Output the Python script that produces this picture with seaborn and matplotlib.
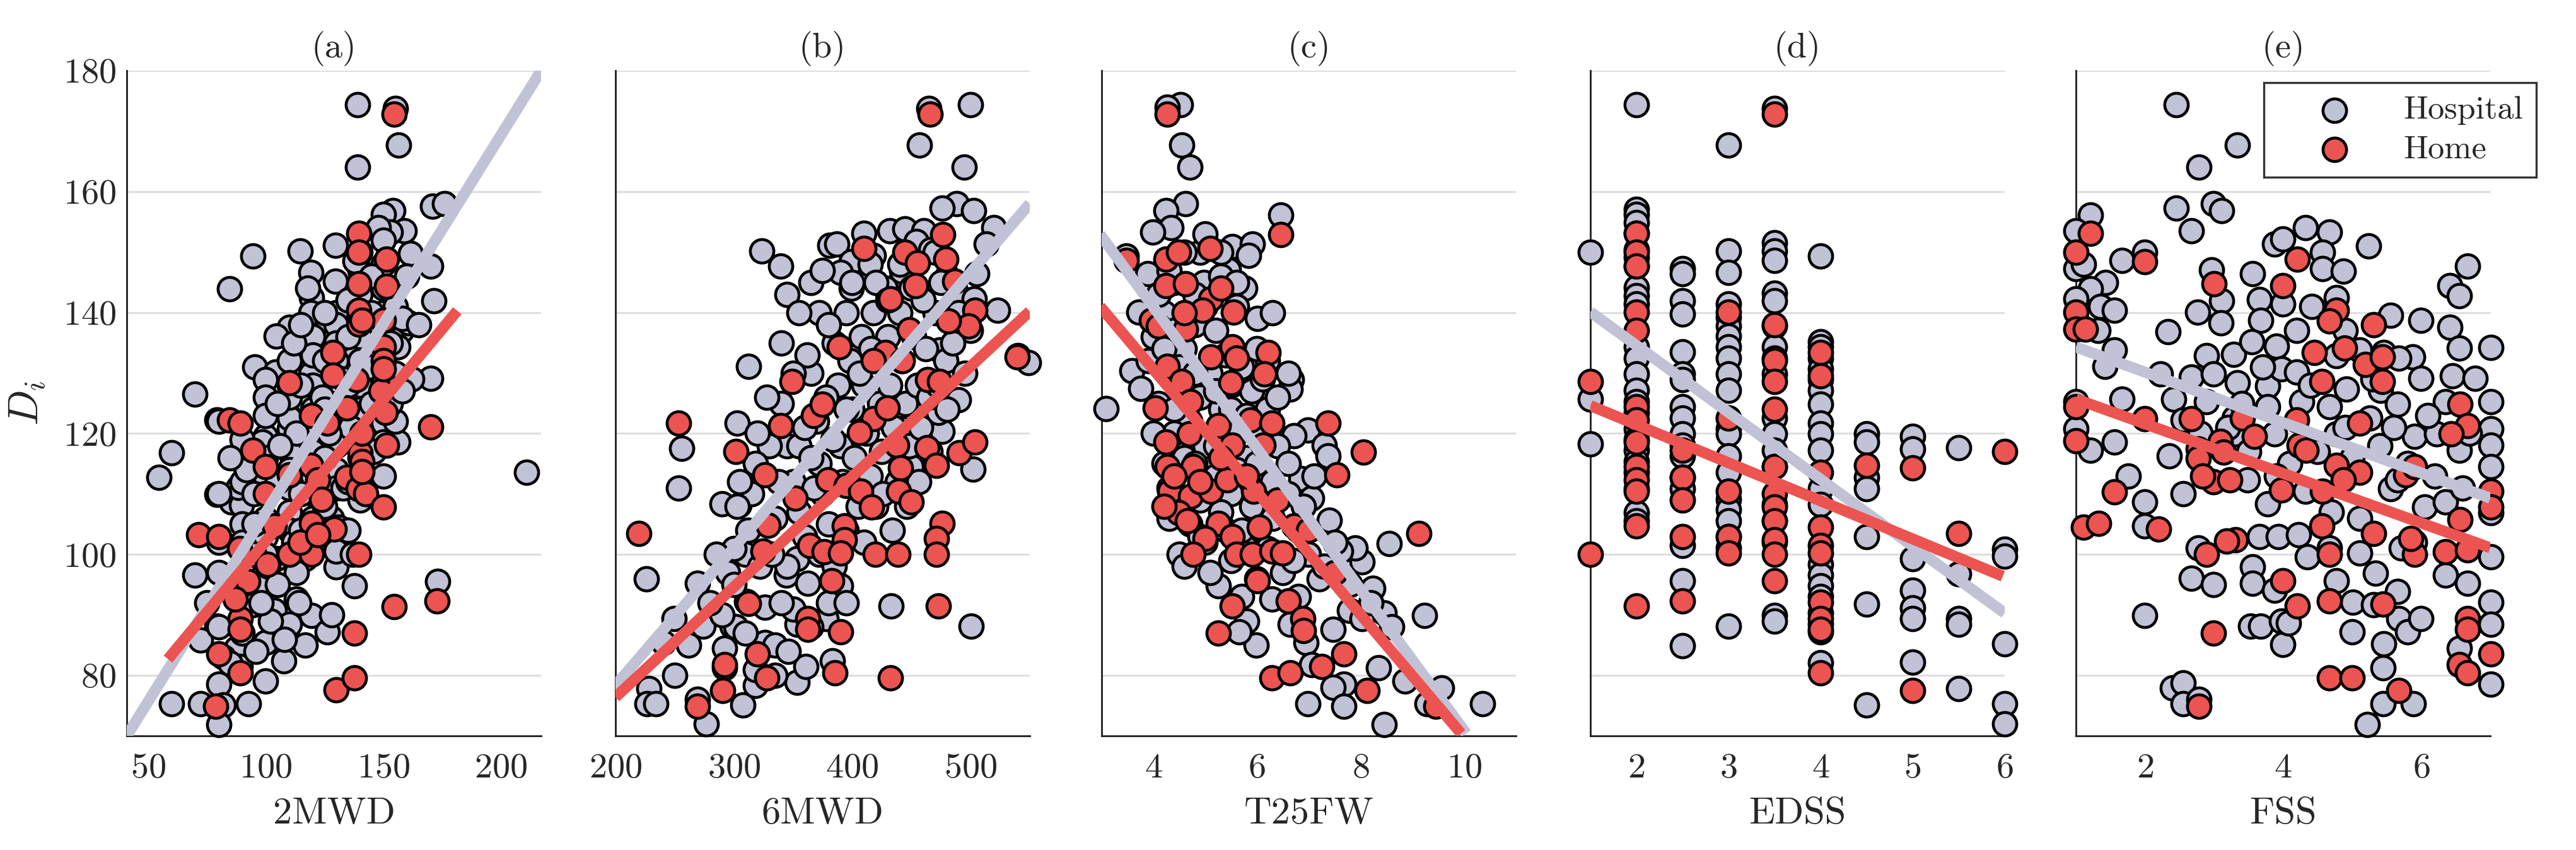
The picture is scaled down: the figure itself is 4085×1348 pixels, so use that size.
import matplotlib
matplotlib.use("Agg")
import matplotlib.pyplot as plt
import seaborn as sns

# ---- data: (walk measure, D_i) per subject ----
a_hosp = [(139,174.4),(155,173.7),(156.5,167.7),(139,164),(171,157.6),(176,158),(154,156.9),(150,156.2),(159,153.5),(153,153.3),(148,154),
          (94.6,149.3),(114.6,150.2),(129.7,151.1),(119.2,146.6),(129.7,145.2),(84.6,143.9),(161.5,149.8),(170,147.7),(171.5,141.9),
          (119.5,142.5),(119.2,140),(126.2,138.7),(130,140),(110,137.6),(104.6,136.1),(116.9,133.8),(157.7,137),(160.8,138.3),(95.4,131),
          (104.3,130.2),(100,128.9),(119.2,129.8),(110,132),(170,129.1),(156.2,134.3),(134.6,134.3),(70,126.5),(111.5,125.3),(108.5,124.8),
          (117.7,125.3),(79.2,122.2),(110,120.8),(110,122.6),(100,119.5),(98.5,118.6),(60,116.8),(54.6,112.7),(210.8,113.6),(89.2,115.6),
          (79.2,109.9),(85.4,108.7),(89.7,108.2),(88.5,111.1),(70,96.6),(100,95.2),(104.6,99.3),(116.9,99.3),(130,97.9),(130,100.6),
          (137.7,94.8),(173,95.5),(94.6,91.7),(103.8,90.8),(113.1,92.6),(110,88.5),(119.5,89.9),(126.2,87.2),(116.9,85),(100,85.4),
          (79.2,88.1),(72.3,85.8),(87.7,84.5),(89.2,81.5),(107.7,82.4),(100,79.1),(80,78.5),(60,75.3),(72.3,75.3),(81.9,75.1),(92.8,75.3),
          (80,71.9),(150,121.7),(150,118.6),(156.2,118.6),
          (140,150),(140,147),(140,143),(140,136),(140,132),(140,128),(140,124),(140,120),(140,116),(140,112),(140,109),(138,148.5),(142,139),(143,131),
          (150,152),(150,148),(150,144),(150,140),(150,136),(150,132),(150,128),(150,124),(152,139),(153,135),(155,141),(158,139),(160,146),(155,122),(153,125),(150,113),
          (130,138),(130,135),(130,132),(130,125),(130,122),(130,118),(130,114),(130,111),(128,106),(131,104.5),(133,129),(135,136),(136,121),(133,111),
          (120,136),(120,133),(120,128),(120,124),(120,120),(120,117),(120,113),(120,110),(120,106),(120,103),(120,101),(122,121),(124,126),(125,116),
          (110,128),(110,126),(110,117),(110,114),(110,111),(110,107),(110,104),(112,102),(112,135),(113,120),(115,110),(114,92),
          (100,126),(100,123),(100,116),(100,113),(100,110),(100,106),(100,103),(100,100),(101,98),(102,89),(98,92),
          (90,119),(90,112),(90,105),(90,102),(90,98),(90,95),(90,87),(92,114),
          (80,122),(80,110),(80,102),(80,97),(80,88),(82,83),(85,82),
          (145,140),(145,131),(146,117),(135,112),(125,132),(118,144),(127,120),(165,138),(162,129),(137,100),(128,90),(108,86),(113,97),
          (105,125),(106,118),(105,112),(95,110),(95,100),(95,105),(105,95),(115,128),(115,138),(125,140),(125,124),(135,142),(135,128),
          (145,146),(145,125),(155,130),(158,127),(115,104),(125,108),(135,104),(96,84),(86,95),(75,92),(85,116)]
a_home = [(154.6,172.8),(139.7,153.1),(139.7,150),(139.7,144.8),(139.7,140.4),(139.7,138.1),(151.5,148.8),(151.5,144.3),(150,138.7),
          (150,134.3),(150,132),(150,128.4),(128.5,133.4),(128.5,129.6),(110,128.4),(138.5,128.9),(134.6,124.2),(150.8,123.5),(84.6,122.2),
          (89.2,121.7),(170,121.1),(119.5,123),(126.2,121.7),(94.6,117.2),(140,116.8),(151.5,118.1),(100,114.5),(110,113.2),(119.2,114.7),
          (122.3,112.3),(134.6,112.7),(139.2,110.9),(142.6,110),(150,107.8),(100,110),(123.8,109.1),(71.5,103.3),(80,102.9),(103.8,104.7),
          (119.5,105.1),(129.2,104.2),(110,100),(119.5,100),(139.7,100),(89,101),(92.3,95.5),(89.2,89.4),(89.2,87.6),(80,83.6),(89.2,80.4),
          (137.7,87),(154.6,91.4),(172.8,92.3),(130,77.6),(137.7,79.6),(78.8,74.9),(87,92.6),(100.8,98.4),(114.6,102),(122.3,103.3),
          (140.8,120),(140.8,115.4),(140.8,113.7),(149,127),(150,130.7),(140.8,138.7)]

b_hosp = [(499.7,174.4),(465,173.7),(456.9,167.7),(494.8,164),(488,158),(475.8,157.3),(502.8,156.9),(519.6,154),(513.5,151.3),(323.5,150.2),
          (339.8,147.7),(381,151.1),(387,151.3),(410,153.1),(431.5,153.5),(444.6,153.8),(460.6,153.5),(399.4,148.4),(390,146.6),(399.4,144),
          (417.7,149.5),(454,151.7),(466.3,150.4),(505,146.4),(523,140.4),(488,143.2),(503,142.3),(442,146.8),(312.2,131.1),(303,121.7),
          (255.7,117.5),(253.5,111),(290,108.4),(304.6,108.2),(226,96),(269.4,95.2),(249.5,89.4),(274,88.1),(240.4,85.4),(228,77.8),
          (226.6,75.3),(234,75.3),(269.4,76),(276.5,72),(292.4,84.5),(298.5,88.1),(292.4,81.3),(307.6,75.1),(318.3,78.3),(326,85.4),(335,85),
          (353.5,78.9),(361,81.5),(383.5,82.4),(433,91.5),(500.3,88.1),(344.3,96.6),(362.7,95.2),(390.2,94.8),(353.5,99.3),(378,89.4),
          (353.5,88.5),(326,91.3),(310.7,92.2),(489.6,125.6),(501.8,114.1),(475.8,120.4),(472.8,123.5),(473.7,133.8),(479,132),(540,132.9),
          (549,131.7),(450,114.5),(442,120.8),
          (340,125),(345,118),(350,112),(355,107),(360,103),(365,130),(370,122),(372,115),(375,110),(380,105),(385,135),(388,128),(390,118),
          (392,112),(395,140),(398,132),(400,124),(402,116),(405,108),(408,136),(410,128),(412,120),(415,113),(418,140),(420,132),(423,125),
          (425,117),(428,144),(430,136),(432,128),(435,121),(438,112),(440,140),(442,132),(445,125),(448,118),(450,144),(452,136),(455,128),
          (458,121),(462,134),(465,126),(470,140),(472,128),(330,118),(320,120),(315,110),(335,106),(310,100),(322,98),(300,101),(295,97),
          (302,88),(345,98),(355,118),(365,116),(372,100),(385,98),(395,104),(410,102),(420,108),(372,140),(380,138),(362,133),(350,130),
          (340,135),(400,145),(415,148),(440,148),(470,150),(480,146),(490,140),(500,137),(350,91),(365,88),(310,87),(318,81),(290,90),
          (380,92),(312,104),(303,108),
          (345,143),(355,140),(365,145),(375,147),(420,145),(430,142),(460,142),(475,145),(485,135),(495,130),(360,121),(368,111),(378,126),
          (384,119),(395,124),(406,130),(416,134),(426,110),(434,104),(446,108),(456,112),(466,117),(480,124),(338,112),(328,126),(318,115),
          (305,112),(332,100),(340,92),(300,95),(285,100),(280,92),(262,85),(250,80),(335,80),(346,84),(395,92)]
b_home = [(465.7,172.8),(476.5,152.9),(478.9,148.8),(410,150.6),(444.6,150),(455.3,148.2),(453.8,144.4),(432.4,142.3),(486.5,145.2),
          (503.4,140.4),(498.2,137.8),(481.3,138.6),(448.3,137.1),(389.3,134.3),(427.8,133.4),(417.7,132),(442.2,132),(349,128.6),
          (463.6,128.9),(473.7,128.6),(539.4,132.7),(367.3,123),(375,124.8),(339.8,121.3),(417.7,122.4),(429.4,124.2),(406.4,120.2),
          (437.6,118.1),(440.7,114.3),(463,117.7),(471.3,114.7),(490.5,116.8),(503.4,118.6),(253.2,121.7),(301.5,117),(326,113.2),
          (379.5,112.3),(394.8,111.4),(407,110.5),(416.2,107.8),(439.1,110.5),(449.8,108.7),(352,109.3),(329,104.8),(219.6,103.5),
          (393.3,104.7),(393.3,102.4),(364.2,101.5),(376.5,100.4),(390.2,100.2),(419.3,100),(438.5,100),(475.8,105.1),(471.3,102.6),
          (471.3,100),(324.5,100.6),(312.2,91.9),(382.6,95.7),(362.7,89.4),(362.7,87.6),(390.2,87.2),(472.8,91.5),(319.9,83.6),(292.4,81.8),
          (328.1,79.6),(385.6,80.4),(432.4,79.6),(290.8,77.5),(269.4,74.9)]

c_hosp = [(4.52,174.4),(4.27,174),(4.55,167.7),(4.71,164),(4.62,158),(4.24,156.9),(4.34,154),(3.99,153.3),(6.46,156.1),(3.47,149.3),
          (5.45,147.1),(5.52,150.9),(5.91,151.3),(5.84,149.5),(4.97,145),(5.77,144),(6.01,139),(3.89,146.4),(3.72,140.1),(3.58,130.4),
          (3.75,127.5),(3.09,124.1),(6.67,128.9),(6.64,127.3),(6.08,125.5),(6.98,120.6),(6.71,119.6),(7.3,118.1),(7.37,116.3),(6.85,112.5),
          (7.05,109.3),(7.4,105.7),(8.55,101.8),(9.24,89.9),(5.25,94.8),(5.8,89),(5.98,85),(5.66,87.2),(6.29,92.6),(6.64,88.5),(6.95,85.4),
          (7.05,81.8),(7.47,87.6),(7.78,90.8),(8.03,89.4),(8.34,81.3),(6.98,75.3),(7.68,78.5),(7.47,78),(7.68,74.9),(8.45,71.9),(8.86,79.1),
          (9.28,75.3),(9.56,77.9),(10.36,75.3),(8.03,98.8),(7.89,101.1),(7.61,100.6),(8.24,94.4),(8.45,90.3),
          (4.2,140),(4.4,137),(4.6,134),(4.3,131),(4.5,128),(4.8,138),(5.0,141),(5.2,137),(5.4,133),(5.1,130),(4.9,126),(4.7,122),(4.4,120),
          (4.6,116),(5.0,118),(5.3,124),(5.5,128),(5.7,131),(5.9,127),(5.6,120),(5.8,116),(6.0,120),(6.2,124),(6.4,118),(6.1,112),(5.9,108),
          (5.5,110),(5.2,113),(4.9,109),(4.7,105),(5.0,102),(5.4,104),(5.8,101),(6.3,106),(6.6,110),(6.8,104),(7.0,100),(6.5,97),(6.0,96),
          (5.5,99),(4.8,143),(5.6,141),(6.2,132),(4.1,125),(3.9,132),(4.3,111),(4.5,100),(5.1,97),(6.8,93),(7.2,96),(7.5,102),(6.0,134),
          (5.3,146),(4.4,145),(4.9,150),(6.3,140),(6.6,130),(7.1,113),(5.7,93),(4.6,98),
          (4.1,143),(4.3,147),(4.6,150),(5.0,153),(5.3,150),(5.6,145),(4.0,136),(4.2,134),(4.5,131),(4.8,130),(5.2,127),(5.5,124),(5.8,123),
          (6.1,129),(6.4,126),(4.4,124),(4.8,115),(5.2,118),(5.6,114),(6.0,115),(6.3,112),(6.6,115),(6.9,108),(5.3,107),(4.9,103),(5.7,104),
          (6.2,101),(6.7,99),(7.3,98),(7.8,95),(8.2,92),(8.6,88),(4.3,106),(4.2,115),(4.0,120)]
c_home = [(4.27,172.8),(6.46,152.9),(3.47,148.6),(4.24,148.8),(4.48,150),(5.09,150.6),(4.24,144.4),(4.62,144.8),(5.11,142.3),(4.95,140.4),
          (5.55,140.1),(3.96,138.7),(4.1,137.8),(4.62,137.2),(5.52,134.3),(5.6,132.5),(5.11,132.7),(6.21,133.4),(4.27,131.1),(4.55,128.6),
          (5.5,128.4),(6.14,129.8),(4.72,125.3),(4.03,124.2),(5.87,122.2),(6.29,121.7),(7.37,121.7),(4.24,118.6),(4.69,119.9),(5.25,121.3),
          (5.52,118.1),(6.12,118.1),(8.05,116.9),(7.54,113.2),(4.27,114.5),(4.76,114.5),(4.31,110.5),(4.72,109.6),(5.11,110.5),(5.42,112.3),
          (5.94,110.5),(4.48,106.9),(4.66,105.6),(5.25,105.1),(5.0,102.6),(5.52,102.9),(6.05,104.5),(4.76,100),(5.6,100),(5.91,100),
          (6.29,100.6),(6.5,100.2),(6.71,104.7),(9.13,103.5),(6.01,95.7),(5.52,91.5),(6.6,92.3),(6.88,89.4),(6.9,87.4),(5.25,87),(7.25,81.5),
          (7.68,83.6),(6.29,79.6),(6.64,80.4),(8.13,77.5),(9.45,74.9),
          (4.4,113),(4.9,112),(4.2,108),(5.3,116),(5.8,113),(6.4,109),(7.0,104),(7.5,97),(4.6,140),(5.3,144)]

# EDSS takes discrete levels: D_i values per level
d_levels = [1.5, 2, 2.5, 3, 3.5, 4, 4.5, 5, 5.5, 6]
d_hosp_di = [[150, 125.7, 118.3],
             [174.4, 157.1, 156.2, 154.9, 153.1, 150.4, 149.1, 147.7, 144.1, 142.8, 141.4, 134.3, 132.5, 129.8, 127.1, 125.3, 123.5,
              120.8, 119, 117.2, 115.4, 113.6, 110.9, 106.9, 105.6],
             [147.3, 146.4, 141.9, 139.8, 133.5, 129.8, 128.9, 124.4, 122.6, 119.9, 118.1, 116.3, 112.7, 110.9, 101.5, 95.7, 84.9],
             [167.7, 150.2, 146.6, 141.4, 139.2, 137.8, 136.1, 134.3, 132.5, 129.8, 127.1, 122.6, 120.8, 119.9, 116.3, 113.6, 109.1,
              107.4, 105.6, 102.9, 101.1, 88.1],
             [173.7, 151.5, 150.2, 148.6, 143.2, 141.9, 137.8, 134.3, 132.5, 129.8, 122.6, 119.9, 117.2, 114.5, 108.3, 105.6, 102,
              89.9, 89],
             [149.3, 135.2, 134.3, 132.5, 130.7, 128.9, 127.1, 124.8, 121.7, 119.9, 117.2, 110.9, 108.3, 98.4, 96.6, 94.8, 93, 90.3,
              88.5, 87.2, 82.1],
             [119.9, 118.6, 112.7, 110.9, 102.9, 91.8, 75.1],
             [119.5, 117.4, 99.3, 94.1, 91.2, 89.4, 82.2],
             [117.7, 96.8, 89.4, 88.5, 77.8],
             [100.9, 99.7, 85.2, 75.3, 72]]
d_home_di = [[128.6, 100],
             [153.1, 150, 147.7, 140.1, 137, 124.4, 122.2, 118.6, 114.5, 112.3, 110.5, 104.7, 91.5],
             [117.2, 112.7, 109, 102.9, 92.3],
             [140.1, 122.6, 110.5, 102.9, 100.2],
             [172.8, 138, 132, 128.6, 124, 114.5, 110, 107.8, 105.6, 102.4, 100, 95.7],
             [133.4, 129.5, 113.6, 104.5, 101.5, 100.2, 92.1, 89.4, 87.6, 80.4],
             [114.7],
             [114.3, 77.5],
             [103.5],
             [117]]

e_hosp = [(2.45,174.4),(3.34,167.7),(2.78,164),(2.45,157.3),(2.99,158),(3.11,156.9),(2.67,153.5),(1.21,156.1),(1.0,153.5),(1.0,147.3),
          (1.11,148),(1.67,148.6),(2.0,150),(1.43,145),(1.21,143.9),(1.0,142.3),(1.36,141),(1.56,140.4),(1.32,137),(1.56,133.8),(1.42,131.1),
          (2.33,136.8),(2.76,140.1),(2.96,147.1),(3.11,141.9),(3.1,138.3),(3.56,146.4),(3.66,142.1),(3.68,138.7),(3.88,151.3),(4.0,152.2),
          (4.0,141.4),(4.32,154),(4.67,153.3),(4.57,150),(4.57,147.3),(4.87,146.8),(4.77,142.5),(5.24,151),(4.42,141),(6.67,147.7),
          (6.42,144.4),(6.55,142.8),(5.56,139.5),(6.0,138.7),(6.42,137.6),(6.55,134.1),(7.01,134.2),(2.89,132.9),(3.28,133.1),(3.55,135.2),
          (3.9,134.4),(2.22,129.8),(2.67,129.3),(2.99,129.8),(3.34,128.4),(3.78,127.9),(3.98,130.7),(4.2,130.2),(4.77,132.9),(5.11,133.8),
          (5.46,133.4),(5.88,132.7),(5.68,132.5),(6.0,129.1),(6.45,129.5),(6.78,129.1),(1.67,125.7),(1.0,125.3),(2.42,125.7),(2.89,125.3),
          (3.29,122.6),(3.78,124.4),(4.27,125.3),(4.67,124.4),(4.92,127.3),(5.41,127.1),(5.66,124.8),(6.35,125.3),(7.01,125.3),(1.0,120.8),
          (1.21,117.2),(1.56,118.6),(2.35,116.3),(2.55,122.2),(3.31,119.9),(3.88,119.9),(4.77,119.9),(5.26,122.6),(5.9,119.5),(6.22,119.9),
          (6.55,117.2),(7.01,120.8),(7.01,118.1),(1.76,113),(2.0,108.7),(2.55,110),(3.48,112.3),(3.78,108.4),(4.32,110.5),(5.11,106),
          (5.56,110.9),(5.66,112.3),(6.05,107.8),(6.35,108.7),(7.01,114.5),(7.01,106.9),(2.0,104.7),(2.77,101.1),(3.66,102.9),(3.93,102.9),
          (4.22,103.3),(4.67,101.1),(5.11,100.2),(4.35,99.6),(5.71,101.1),(5.9,102),(6.35,96.6),(6.67,95.2),(7.01,99.6),(2.67,96.1),
          (2.99,95),(3.56,97.9),(3.56,95.2),(3.88,94.1),(4.77,95.7),(5.34,96.9),(5.66,93.9),(2.0,89.9),(3.53,88.1),(3.68,88.1),(3.98,89),
          (4.0,85.1),(4.08,88.7),(5.01,92.1),(5.0,87.2),(5.31,91.7),(5.46,85.2),(5.45,81.3),(5.68,89.4),(5.8,87.2),(6.0,89.4),(6.55,84.5),
          (7.01,92.1),(7.01,88.5),(7.01,78.5),(2.4,77.9),(2.55,78.8),(2.55,75.3),(2.78,76),(5.45,75.3),(5.89,75.3),(5.22,71.9),
          (3.2,121),(3.5,117),(4.1,115),(4.5,117),(5.0,116),(5.4,118),(5.8,115),(6.2,113),(6.6,111),(4.9,121),(4.4,128),(3.7,131),
          (5.3,129),(6.1,123),(2.8,120),(3.9,113),(4.7,107),(6.7,120),(5.6,121),(4.2,137),(4.9,137),(3.4,125)]
e_home = [(1.21,153.1),(1.0,150),(2.0,148.4),(3.0,144.8),(4.0,144.4),(4.21,148.8),(1.0,140.1),(1.0,137.2),(1.14,137.2),(4.77,140.4),
          (4.67,138.6),(5.31,138),(4.45,133.4),(4.89,134.1),(5.19,131.4),(5.44,132.7),(5.44,128.6),(4.56,128.6),(1.0,124.4),(2.0,122.4),
          (2.67,122.4),(3.41,122.6),(4.2,122.2),(5.11,121.7),(6.56,124.8),(6.67,121.3),(6.43,119.9),(1.0,118.8),(3.58,119.5),(2.77,117.4),
          (2.77,115.9),(3.09,118.7),(3.14,116.9),(4.23,118.1),(4.33,117.2),(4.77,114.7),(5.11,113.6),(2.99,112),(3.23,112.3),(2.84,113),
          (1.56,110.3),(3.98,110.7),(4.57,110.5),(4.87,112.3),(5.78,113.2),(5.9,114.5),(7.01,110.5),(7.01,107.8),(1.11,104.5),(1.33,105.1),
          (2.2,104.2),(3.31,102.4),(3.18,102.2),(4.56,104.7),(5.31,103.5),(6.56,105.8),(2.89,100),(4.67,100),(5.9,100),(5.85,102.6),
          (6.35,100.4),(6.67,100.8),(4.0,95.7),(4.21,91.5),(4.67,92.3),(5.45,91.8),(2.99,87),(6.67,89.4),(6.67,87.6),(7.01,83.6),(6.55,81.8),
          (6.67,80.4),(4.67,79.6),(5.0,79.6),(5.68,77.5),(2.78,74.9)]

# fitted regression lines (end points)
a_fit = {"hx": [41, 217], "hy": [70, 180], "mx": [58.5, 181.4], "my": [82.7, 140.3]}
b_fit = {"hx": [197.6, 550], "hy": [77.8, 158], "mx": [200, 550], "my": [76.4, 140.2]}
c_fit = {"hx": [2.97, 10.04], "hy": [152.9, 70.4], "mx": [2.97, 9.94], "my": [141, 70.4]}
d_fit = {"hx": [1.5, 6.0], "hy": [140.1, 90.3], "mx": [1.5, 5.98], "my": [124.6, 96.4]}
e_fit = {"hx": [1.0, 7.0], "hy": [134.3, 109.3], "mx": [1.0, 7.0], "my": [125.7, 101.1]}

titles = ["(a)", "(b)", "(c)", "(d)", "(e)"]
xlabels = ["2MWD", "6MWD", "T25FW", "EDSS", "FSS"]
xlims = [(41, 217), (200, 550), (3, 11), (1.5, 6), (1, 7)]
xticks = [[50, 100, 150, 200], [200, 300, 400, 500], [4, 6, 8, 10], [2, 3, 4, 5, 6], [2, 4, 6]]
yticks = [80, 100, 120, 140, 160, 180]

# expand EDSS columns into point pairs
d_hosp = [(lv, v) for lv, col in zip(d_levels, d_hosp_di) for v in col]
d_home = [(lv, v) for lv, col in zip(d_levels, d_home_di) for v in col]

panels = [(a_hosp, a_home, a_fit), (b_hosp, b_home, b_fit), (c_hosp, c_home, c_fit),
          (d_hosp, d_home, d_fit), (e_hosp, e_home, e_fit)]

sns.set_theme(style="white")
plt.rcParams["font.family"] = ["cmr10", "DejaVu Serif"]
plt.rcParams["mathtext.fontset"] = "cm"
plt.rcParams["axes.formatter.use_mathtext"] = True

HOSP = "#c1c2d6"
HOME = "#ec5451"
DARK = "#262626"

W, H = 4086, 1348
fig = plt.figure(figsize=(W / 300, H / 300), dpi=300)
lefts = [201, 976, 1747, 2522, 3292]

for i, (hosp, home, fit) in enumerate(panels):
    ax = fig.add_axes([lefts[i] / W, 1 - 1167 / H, 657 / W, (1167 - 112) / H])
    hx, hy = zip(*hosp)
    mx, my = zip(*home)
    sns.scatterplot(x=list(hx), y=list(hy), ax=ax, s=80, color=HOSP, edgecolor="black",
                    linewidth=1.1, label="Hospital", zorder=3, clip_on=False)
    sns.scatterplot(x=list(mx), y=list(my), ax=ax, s=80, color=HOME, edgecolor="black",
                    linewidth=1.1, label="Home", zorder=4, clip_on=False)
    sns.lineplot(x=fit["hx"], y=fit["hy"], ax=ax, color=HOSP, lw=4.2, zorder=5,
                 solid_capstyle="butt", legend=False)
    sns.lineplot(x=fit["mx"], y=fit["my"], ax=ax, color=HOME, lw=4.2, zorder=6,
                 solid_capstyle="butt", legend=False)

    ax.set_xlim(*xlims[i])
    ax.set_ylim(70, 180)
    ax.set_xticks(xticks[i])
    ax.set_yticks(yticks)
    ax.set_axisbelow(True)
    ax.yaxis.grid(True, color="#dddddd", lw=0.7)
    ax.xaxis.grid(False)
    sns.despine(ax=ax)
    for sp in ["left", "bottom"]:
        ax.spines[sp].set_color(DARK)
        ax.spines[sp].set_linewidth(0.7)
    ax.tick_params(direction="in", length=3.2, width=0.7, color=DARK, labelsize=13.5, labelcolor=DARK)
    ax.tick_params(axis="x", pad=6.5)
    ax.tick_params(axis="y", pad=4)
    if i > 0:
        ax.tick_params(axis="y", labelleft=False)
    else:
        ax.set_ylabel("$D_i$", fontsize=16, color=DARK, labelpad=6)
    ax.set_xlabel(xlabels[i], fontsize=14.5, color=DARK, labelpad=5)
    ax.set_title(titles[i], fontsize=13.5, color=DARK, pad=5)

    handles, labels = ax.get_legend_handles_labels()
    ax.get_legend().remove()
    if i == 4:
        leg = ax.legend(handles, labels, loc="upper right", bbox_to_anchor=(1.111, 0.982),
                        fontsize=12.5, frameon=True, fancybox=False, framealpha=1,
                        edgecolor="#333333", handlelength=3.5, handletextpad=0.35,
                        borderpad=0.4, labelspacing=0.3, borderaxespad=0)
        leg.get_frame().set_linewidth(0.8)
        leg.set_zorder(10)

fig.savefig("out.png", dpi=300)
